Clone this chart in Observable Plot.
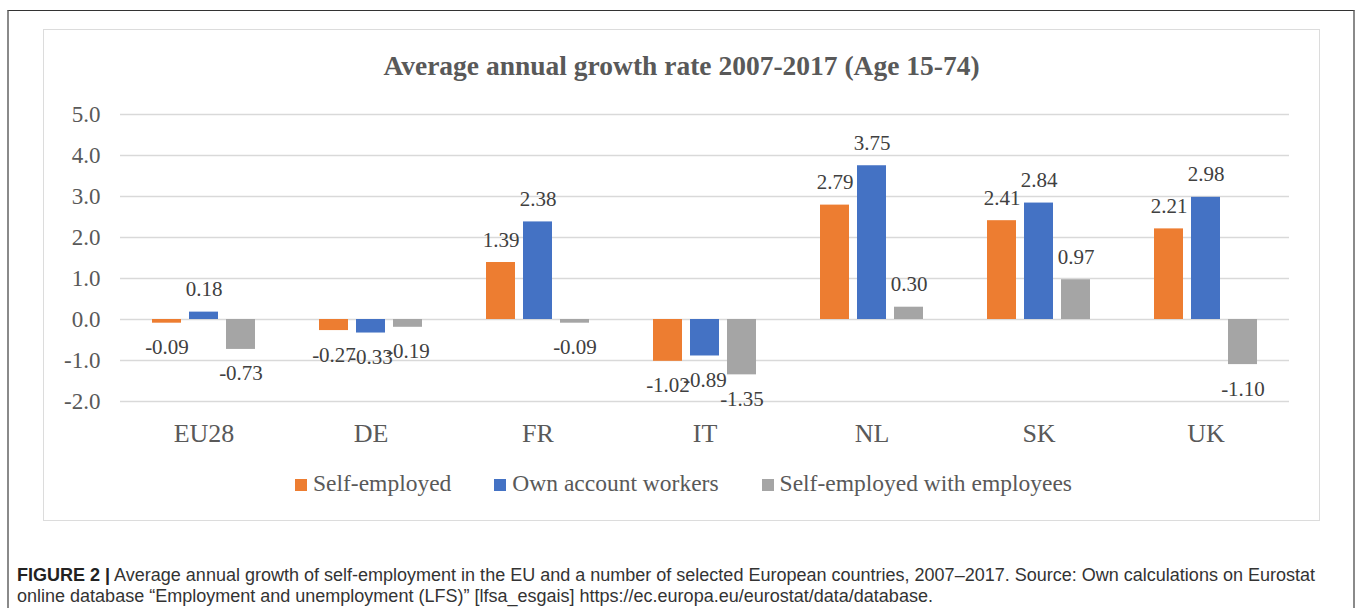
<!DOCTYPE html>
<html>
<head>
<meta charset="utf-8">
<script src="https://cdn.jsdelivr.net/npm/d3@7"></script>
<script src="https://cdn.jsdelivr.net/npm/@observablehq/plot@0.6"></script>
<style>
  html, body { margin: 0; padding: 0; background: #fff; width: 1358px; height: 608px; overflow: hidden; }
  #outer { position: absolute; left: 7px; top: 10px; width: 1348px; height: 620px;
           border-top: 1.5px solid #333; border-left: 2px solid #8a8a8a; border-right: 2px solid #8a8a8a; box-sizing: border-box; }
  #box { position: absolute; left: 43px; top: 29px; width: 1277px; height: 492px; border: 1.5px solid #dcdcdc; box-sizing: border-box; }
  #title { position: absolute; left: 43px; width: 1277px; top: 52px; text-align: center;
           font: bold 27.5px/28px "Liberation Serif", serif; color: #595959; white-space: nowrap; }
  #chart { position: absolute; left: 43px; top: 90px; }
  #legend { position: absolute; left: 295px; top: 471px; font: 23.5px/24px "Liberation Serif", serif; color: #595959; white-space: nowrap; }
  #legend .item { display: inline-block; margin-right: 43px; }
  #legend .sw { display: inline-block; width: 12px; height: 12px; margin-right: 6px; vertical-align: baseline; }
  #caption { position: absolute; left: 17px; top: 565px; font: 17.5px/20.5px "Liberation Sans", Arial, sans-serif; color: #333; white-space: nowrap; }
  #caption div { transform-origin: 0 0; }
  #caption b { color: #222; }
</style>
</head>
<body>
<div id="outer"></div>
<div id="box"></div>
<div id="title">Average annual growth rate 2007-2017 (Age 15-74)</div>
<div id="chart"></div>
<div id="legend"></div>
<div id="caption">
  <div id="cap1"><b>FIGURE 2 |</b> Average annual growth of self-employment in the EU and a number of selected European countries, 2007–2017. Source: Own calculations on Eurostat</div>
  <div id="cap2">online database “Employment and unemployment (LFS)” [lfsa_esgais] https://ec.europa.eu/eurostat/data/database.</div>
</div>
<script>
const countries = ["EU28", "DE", "FR", "IT", "NL", "SK", "UK"];
const seriesNames = ["Self-employed", "Own account workers", "Self-employed with employees"];
const selfEmployed = [-0.09, -0.27, 1.39, -1.02, 2.79, 2.41, 2.21];
const ownAccount = [0.18, -0.33, 2.38, -0.89, 3.75, 2.84, 2.98];
const withEmployees = [-0.73, -0.19, -0.09, -1.35, 0.30, 0.97, -1.10];
const yTicks = [-2, -1, 0, 1, 2, 3, 4, 5];
const colors = ["#ED7D31", "#4472C4", "#A5A5A5"];

const seriesValues = [selfEmployed, ownAccount, withEmployees];
const rows = [];
countries.forEach((c, i) => {
  seriesNames.forEach((s, j) => rows.push({country: c, series: s, value: seriesValues[j][i]}));
});

const chart = Plot.plot({
  width: 1276,
  height: 380,
  marginLeft: 76,
  marginRight: 29,
  marginTop: 24,
  marginBottom: 69,
  style: {fontFamily: "'Liberation Serif', serif", background: "transparent", overflow: "visible"},
  fx: {domain: countries, padding: 0, label: null},
  x: {domain: seriesNames, paddingInner: 0.213, paddingOuter: 0.837, axis: null},
  y: {domain: [-2, 5], label: null},
  color: {domain: seriesNames, range: colors},
  marks: [
    Plot.ruleY(yTicks, {stroke: "#d9d9d9", strokeWidth: 1.4}),
    Plot.barY(rows, {fx: "country", x: "series", y: "value", fill: "series"}),
    Plot.text(rows.filter(d => d.value >= 0), {fx: "country", x: "series", y: "value",
      text: d => d.value.toFixed(2), lineAnchor: "bottom", dy: -16, fontSize: 21, fill: "#404040"}),
    Plot.text(rows.filter(d => d.value < 0), {fx: "country", x: "series", y: "value",
      text: d => d.value.toFixed(2), lineAnchor: "bottom", dy: 31, fontSize: 21, fill: "#404040"}),
    Plot.axisY({ticks: yTicks, tickFormat: d => d.toFixed(1), tickSize: 0, tickPadding: 20, fontSize: 23, fill: "#595959", label: null}),
    Plot.axisFx({anchor: "bottom", tickSize: 0, tickPadding: 22, fontSize: 26, fill: "#595959", label: null})
  ]
});
document.getElementById("chart").appendChild(chart);

const legend = document.getElementById("legend");
seriesNames.forEach((s, j) => {
  const item = document.createElement("span");
  item.className = "item";
  const sw = document.createElement("span");
  sw.className = "sw";
  sw.style.background = colors[j];
  item.appendChild(sw);
  item.appendChild(document.createTextNode(s));
  legend.appendChild(item);
});

// fit caption width to the reference
const cap1 = document.getElementById("cap1");
const cap2 = document.getElementById("cap2");
cap1.style.display = "inline-block";
const w = cap1.getBoundingClientRect().width;
cap1.style.display = "block";
const k = 1298 / w;
cap1.style.transform = `scaleX(${k})`;
cap2.style.transform = `scaleX(${k})`;
</script>
</body>
</html>
